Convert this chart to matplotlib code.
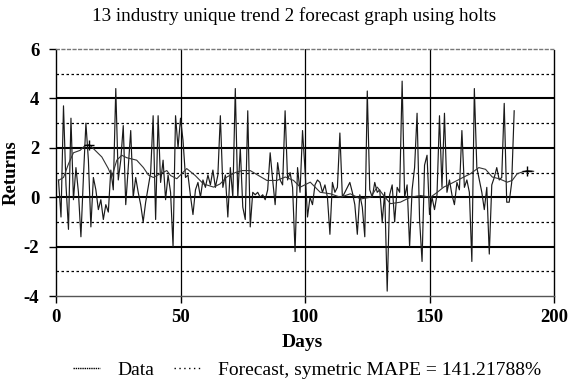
import matplotlib
matplotlib.use('Agg')
import matplotlib.pyplot as plt
from matplotlib.lines import Line2D

plt.rcParams['font.family'] = 'Liberation Serif'
plt.rcParams['axes.unicode_minus'] = False

# --- valores ---
data_returns = [
    0.7, -0.8, 3.7, 0.5, -1.3, 3.2, -0.1, 1.2, 0.2, -1.6,
    0.8, 3.0, 1.5, -1.2, 0.8, 0.3, -0.5, -0.1, -0.9, -0.3,
    -0.6, 1.1, 0.3, 4.4, 0.7, 1.5, 2.9, -0.3, 1.2, 2.7,
    0.0, 0.8, 0.2, -0.3, -1.0, -0.2, 0.4, 1.0, 3.3, -0.9,
    3.3, 0.6, 1.5, -0.1, 0.9, 0.2, -2.0, 3.3, 2.0, 3.2,
    2.3, 0.8, 0.9, 0.05, -0.7, 0.3, 0.6, 0.0, 0.7, 0.4,
    0.9, 0.5, 1.1, 0.4, 0.9, 3.3, 0.4, 0.9, -0.8, 1.2,
    0.0, 4.4, 0.0, 2.0, -0.4, -0.9, 3.5, -1.2, 0.2, 0.1,
    0.2, 0.0, 0.1, -0.1, 0.3, 1.8, 0.7, -0.3, 1.4, 0.7,
    0.5, 3.5, 0.7, 1.0, 0.4, -2.2, 1.2, 0.2, 2.7, 1.1,
    -0.8, 0.0, -0.3, 0.5, 0.7, 0.6, 0.2, 0.5, 0.0, -1.5,
    0.6, 0.2, 0.4, 2.6, 0.0, 0.2, 0.4, 0.6, 0.2, -0.3,
    -1.5, 0.1, -0.4, -1.6, 4.3, 0.3, 0.0, 0.6, 0.2, 0.3,
    -1.0, 0.2, -3.8, 0.1, 0.5, -1.0, 0.4, 0.2, 4.7, 0.0,
    0.5, -2.0, 0.3, 1.2, 3.4, -0.9, -2.6, 1.3, 1.7, -0.7,
    0.0, -0.5, 0.1, 3.3, 0.4, 3.4, 0.2, 0.7, 0.1, -0.3,
    0.6, 0.3, 2.7, 0.4, 0.7, 0.2, -2.6, 4.4, 1.2, 0.7,
    0.2, -0.5, 0.4, -2.3, 0.5, 0.8, 1.2, 0.7, 0.8, 3.8,
    -0.2, -0.2, 0.6, 3.5,
]
data_days = list(range(1, len(data_returns) + 1))

forecast_days = [
    1, 3, 5, 7, 9.7, 11.7, 13.4, 15.7, 18.4, 21, 22.4, 24.4, 26.4, 28.4,
    32.4, 35.1, 37.1, 39.1, 41.8, 44.5, 46, 48.5, 52.5, 55.9, 59.2, 63.3,
    65.9, 68.6, 72, 74.7, 78, 81.3, 84.7, 88.7, 92.1, 95.4, 98.1, 102.1,
    106.1, 110.2, 114.2, 118.2, 122.3, 126.3, 129, 131.6, 134.3, 138.3,
    142.3, 146.4, 150.4, 153.1, 155.7, 158.4, 161.1, 163.8, 166.4, 169.8,
    172.5, 175.2, 177.9, 181.2, 183.2, 185.2, 187.2, 189.2, 191.8,
]
forecast_values = [
    0.68, 0.8, 1.35, 1.8, 1.9, 2.1, 2.13, 1.9, 1.63, 1.16, 0.82, 1.5, 1.7, 1.6,
    1.5, 1.2, 0.9, 0.8, 0.95, 1.08, 0.88, 0.75, 1.16, 0.88, 0.54, 0.41,
    0.54, 0.82, 1.0, 1.08, 1.08, 0.88, 0.68, 0.68, 0.82, 0.68, 0.41, 0.61,
    0.2, 0.14, 0.0, 0.14, -0.07, 0.0, 0.41, 0.07, -0.26, -0.2,
    0.0, 0.07, 0.0, 0.2, 0.41, 0.54, 0.68, 0.82, 0.95, 1.2,
    1.13, 0.82, 0.75, 0.61, 0.68, 0.95, 1.02, 1.08, 1.05,
]
marker_days = [13.4, 189.2]
marker_values = [2.13, 1.08]

fig = plt.figure(figsize=(5.74, 3.83), dpi=100)
ax = fig.add_axes([0.0976, 0.227, 0.8676, 0.645])

# grade: linhas principais solidas, secundarias pontilhadas
for y in [-2, 0, 2, 4]:
    ax.axhline(y, color='black', lw=1.5, zorder=1)
for y in [-3, -1, 1, 3, 5]:
    ax.axhline(y, color='black', lw=0.9, ls=(0, (2, 2)), zorder=1)
for x in [50, 100, 150]:
    ax.axvline(x, color='black', lw=0.9, zorder=1)

ax.plot(data_days, data_returns, color='#1a1a1a', lw=0.85, zorder=3)
ax.plot(forecast_days, forecast_values, color='#333333', lw=0.8, zorder=3)
ax.plot(marker_days, marker_values, ls='none', marker='+', ms=7, mew=1.0,
        color='black', zorder=4)

ax.set_xlim(0, 200)
ax.set_ylim(-4, 6)
ax.set_xticks([0, 50, 100, 150, 200])
ax.set_yticks([-4, -2, 0, 2, 4, 6])
ax.tick_params(direction='out', length=5, width=1, labelsize=13.5)
ax.tick_params(axis='y', pad=7)
ax.tick_params(axis='x', pad=4)
for lab in ax.get_xticklabels() + ax.get_yticklabels():
    lab.set_fontweight('bold')

ax.spines['left'].set_linestyle((0, (1, 1)))
ax.spines['right'].set_linestyle((0, (1, 1)))
ax.spines['top'].set_linestyle((0, (2, 2)))
ax.spines['top'].set_color('#777777')
ax.spines['bottom'].set_color('#555555')
for s in ax.spines.values():
    s.set_linewidth(1.0)

ax.set_ylabel('Returns', fontsize=13.5, fontweight='bold')
ax.yaxis.set_label_coords(-0.073, 0.5)
fig.text(0.526, 0.107, 'Days', ha='center', va='center', fontsize=14, fontweight='bold')
fig.text(0.512, 0.958, '13 industry unique trend 2 forecast graph using holts',
         ha='center', va='center', fontsize=13.8)

handles = [
    Line2D([], [], color='black', lw=1.0, ls=(0, (1, 0.6))),
    Line2D([], [], color='black', lw=1.0, ls=(0, (1, 2.5))),
]
fig.legend(handles, ['Data', 'Forecast, symetric MAPE = 141.21788%'],
           loc='center', bbox_to_anchor=(0.535, 0.034), ncol=2, frameon=False,
           fontsize=14, handlelength=1.4, handletextpad=0.9, columnspacing=1.0)

plt.savefig('out.png', dpi=100)
